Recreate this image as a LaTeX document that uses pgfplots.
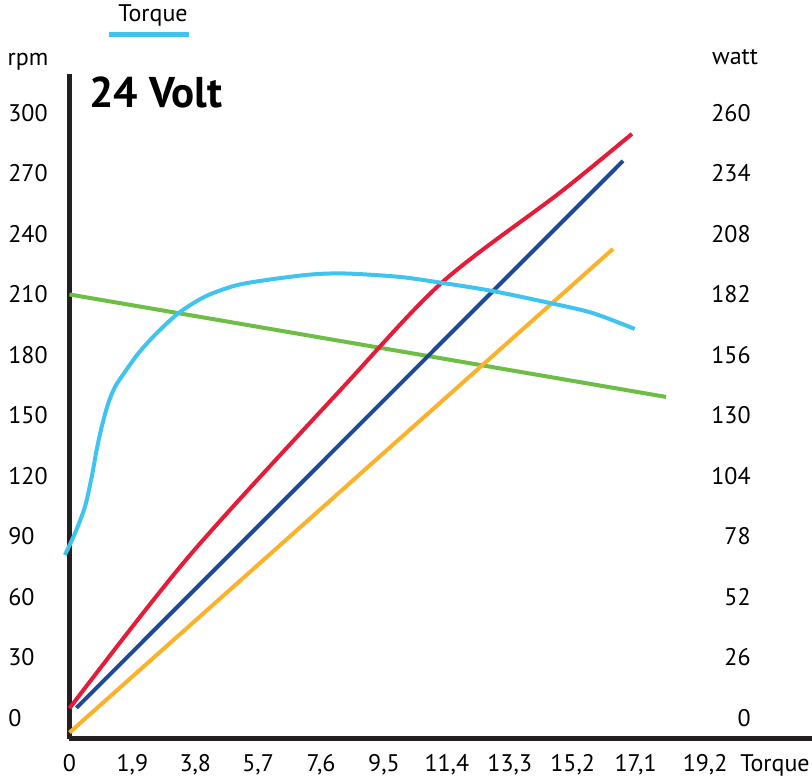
\documentclass[border=0pt]{standalone}
\usepackage{pgfplots}
\pgfplotsset{compat=1.18}
\usepackage{fontspec}
\setmainfont{PT Sans}

\definecolor{torque}{RGB}{62,196,238}
\definecolor{speed}{RGB}{108,190,69}
\definecolor{power}{RGB}{228,28,56}
\definecolor{current}{RGB}{30,72,152}
\definecolor{effic}{RGB}{251,178,42}
\definecolor{axisblack}{RGB}{35,31,32}

\begin{document}
\begin{tikzpicture}
\useasboundingbox (-34.75pt,-20pt) rectangle (371.25pt,369.5pt);
\pgfplotsset{
  base/.style={
    scale only axis, width=371.25pt, height=332.5pt,
    xmin=0, xmax=22.43,
    clip=false,
    major tick length=0pt,
    tick label style={font=\fontsize{12}{14}\selectfont, inner sep=0pt},
    label style={font=\fontsize{12}{14}\selectfont, inner sep=0pt},
    /pgf/number format/assume math mode=true,
    /pgf/number format/use comma,
  },
}
\begin{axis}[base,
  ymin=-10.4, ymax=319.3,
  axis x line=bottom, axis y line=left,
  axis line style={-, line width=2.5pt, color=axisblack},
  xtick={0,1.9,3.8,5.7,7.6,9.5,11.4,13.3,15.2,17.1,19.2},
  xticklabels={0,{1,9},{3,8},{5,7},{7,6},{9,5},{11,4},{13,3},{15,2},{17,1},{19,2}},
  ytick={0,30,...,300},
  yticklabel style={anchor=west, xshift=-30.75pt},
  xticklabel style={anchor=base, yshift=-16.5pt},
  ylabel={rpm},
  ylabel style={rotate=-90, at={(axis description cs:-0.0559,1.018)}, anchor=center},
  xlabel={Torque},
  xlabel style={at={(axis description cs:0.9973,0)}, anchor=base east, yshift=-16.5pt},
  title={24 Volt},
  title style={at={(axis description cs:0.0263,0.9489)}, anchor=base west, yshift=-6pt,
    font=\bfseries\fontsize{21.5}{25}\selectfont, inner sep=0pt},
  legend style={at={(axis description cs:0.1098,1.0887)}, anchor=center,
    draw=none, fill=none, font=\fontsize{12}{14}\selectfont},
  legend image code/.code={\path (0,0);
    \draw[overlay, #1, line width=2.5pt] (0.5pt,-9.5pt) -- (40.5pt,-9.5pt);},
]
\addplot[speed, line width=2pt, forget plot] coordinates {(0,210) (18.02,159.2)};
\addplot[effic, line width=2pt, forget plot] coordinates {(0,-7.2) (16.42,232.6)};
\addplot[current, line width=2pt, forget plot] coordinates {(0.21,5) (16.72,276.2)};
\addplot[power, line width=2pt, smooth, tension=0.5, forget plot] coordinates {
  (0,4.8) (3.6,80) (8.25,163.8) (11.27,216.2) (14.8,260.3) (16.99,289.6)};
\addplot[torque, line width=2pt, smooth, tension=0.5] coordinates {
  (-0.14,80.8) (0.166,91.6) (0.468,104.8) (0.671,119.6) (0.82,132.9) (0.973,144.4)
  (1.17,156.0) (1.38,164.3) (1.68,171.7) (2.08,180.8) (2.58,189.9) (3.29,200.7)
  (4.09,208.9) (4.90,213.9) (5.60,216.3) (7.17,219.7) (8.3,220.4) (9.97,218.7)
  (11.27,215.7) (12.78,211.7) (14.50,205.8) (15.80,200.8) (17.07,192.9)};
\addlegendentry{Torque}
\end{axis}
\begin{axis}[base,
  ymin=-9.013, ymax=276.73,
  axis x line=none, axis y line*=right,
  axis line style={draw=none},
  ytick={0,26,...,260},
  yticklabel style={anchor=east, xshift=-30.5pt},
  ylabel={watt},
  ylabel style={rotate=-90, at={(axis description cs:0.8963,1.0256)}, anchor=center},
]
\end{axis}
\end{tikzpicture}
\end{document}
